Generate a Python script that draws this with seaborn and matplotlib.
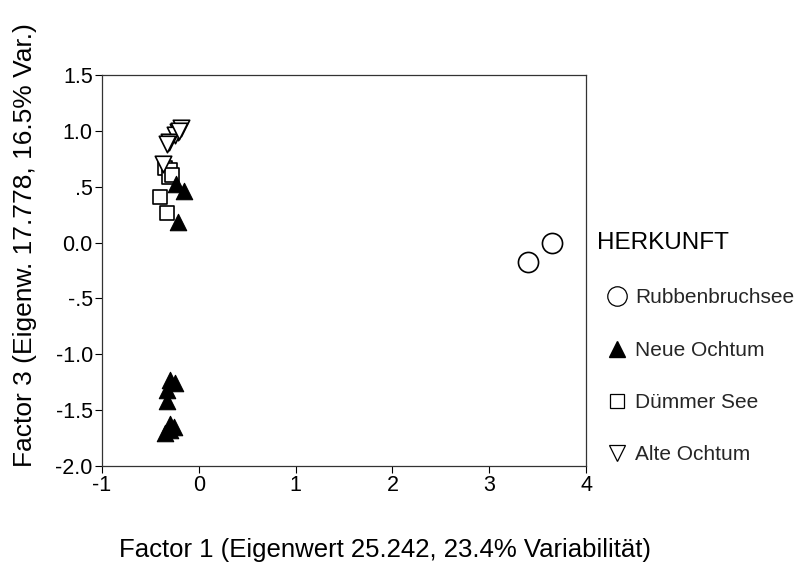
import matplotlib
matplotlib.use("Agg")
import matplotlib.pyplot as plt
import seaborn as sns
from matplotlib.lines import Line2D

# Data
rubben_x = [3.65, 3.40]
rubben_y = [0.00, -0.17]

neue_x = [-0.23, -0.15, -0.21, -0.30, -0.25, -0.33, -0.33, -0.30, -0.26, -0.35, -0.30]
neue_y = [0.52, 0.46, 0.18, -1.23, -1.26, -1.32, -1.42, -1.62, -1.65, -1.70, -1.68]

duemmer_x = [-0.35, -0.30, -0.31, -0.40, -0.33, -0.28]
duemmer_y = [0.67, 0.65, 0.59, 0.41, 0.26, 0.60]

alte_x = [-0.18, -0.21, -0.25, -0.31, -0.33, -0.37, -0.20]
alte_y = [1.02, 0.99, 0.96, 0.90, 0.88, 0.70, 1.00]

groups = ["Rubbenbruchsee", "Neue Ochtum", "Dümmer See", "Alte Ochtum"]
x_ticks = [-1, 0, 1, 2, 3, 4]
y_ticks = [-2.0, -1.5, -1.0, -0.5, 0.0, 0.5, 1.0, 1.5]
y_tick_labels = ["-2.0", "-1.5", "-1.0", "-.5", "0.0", ".5", "1.0", "1.5"]

sns.set_theme(style="white")
plt.rcParams['font.family'] = ['Liberation Sans', 'DejaVu Sans']

fig = plt.figure(figsize=(8.02, 5.67), dpi=100)
ax = fig.add_axes([0.127, 0.178, 0.604, 0.690])

styles = {
    "Rubbenbruchsee": dict(marker="o", s=210, facecolor="white", lw=1.2),
    "Neue Ochtum": dict(marker="^", s=140, facecolor="black", lw=0.8),
    "Dümmer See": dict(marker="s", s=105, facecolor="white", lw=1.2),
    "Alte Ochtum": dict(marker="v", s=140, facecolor="white", lw=1.2),
}
data = {
    "Rubbenbruchsee": (rubben_x, rubben_y),
    "Neue Ochtum": (neue_x, neue_y),
    "Dümmer See": (duemmer_x, duemmer_y),
    "Alte Ochtum": (alte_x, alte_y),
}
for g in ["Dümmer See", "Alte Ochtum", "Neue Ochtum", "Rubbenbruchsee"]:
    xs, ys = data[g]
    st = styles[g]
    sns.scatterplot(x=xs, y=ys, ax=ax, marker=st["marker"], s=st["s"],
                    color=st["facecolor"], edgecolor="black", linewidth=st["lw"],
                    legend=False, zorder=3)

ax.set_xlim(-1, 4)
ax.set_ylim(-2.0, 1.5)
ax.set_xticks(x_ticks)
ax.set_xticklabels([str(t) for t in x_ticks])
ax.set_yticks(y_ticks)
ax.set_yticklabels(y_tick_labels)
ax.tick_params(axis="both", which="both", direction="out", length=5, width=0.8,
               labelsize=15.5, colors="black", bottom=True, left=True, pad=1.5)
for sp in ax.spines.values():
    sp.set_visible(True)
    sp.set_color("#333333")
    sp.set_linewidth(0.9)

ax.set_xlabel("Factor 1 (Eigenwert 25.242, 23.4% Variabilität)", fontsize=18.5, color="black")
ax.set_ylabel("Factor 3 (Eigenw. 17.778, 16.5% Var.)", fontsize=19, color="black")
ax.xaxis.set_label_coords(0.585, -0.215)
ax.yaxis.set_label_coords(-0.159, 0.565)
ax.xaxis.label.set_va("center")
ax.yaxis.label.set_va("center")

fig.text(0.744, 0.571, "HERKUNFT", fontsize=17.5, ha="left", va="center", color="black")

handles = [
    Line2D([], [], ls="none", marker="o", markersize=14, markerfacecolor="white", markeredgecolor="black", markeredgewidth=0.9),
    Line2D([], [], ls="none", marker="^", markersize=11, markerfacecolor="black", markeredgecolor="black"),
    Line2D([], [], ls="none", marker="s", markersize=10.5, markerfacecolor="white", markeredgecolor="black", markeredgewidth=0.9),
    Line2D([], [], ls="none", marker="v", markersize=12, markerfacecolor="white", markeredgecolor="black", markeredgewidth=0.9),
]
leg = fig.legend(handles, groups, loc="center left",
                 bbox_to_anchor=(0.756, 0.336), frameon=False, fontsize=15,
                 labelspacing=1.6, handletextpad=0.4, borderpad=0,
                 borderaxespad=0, handlelength=1.0)

fig.savefig("out.png", dpi=100)
